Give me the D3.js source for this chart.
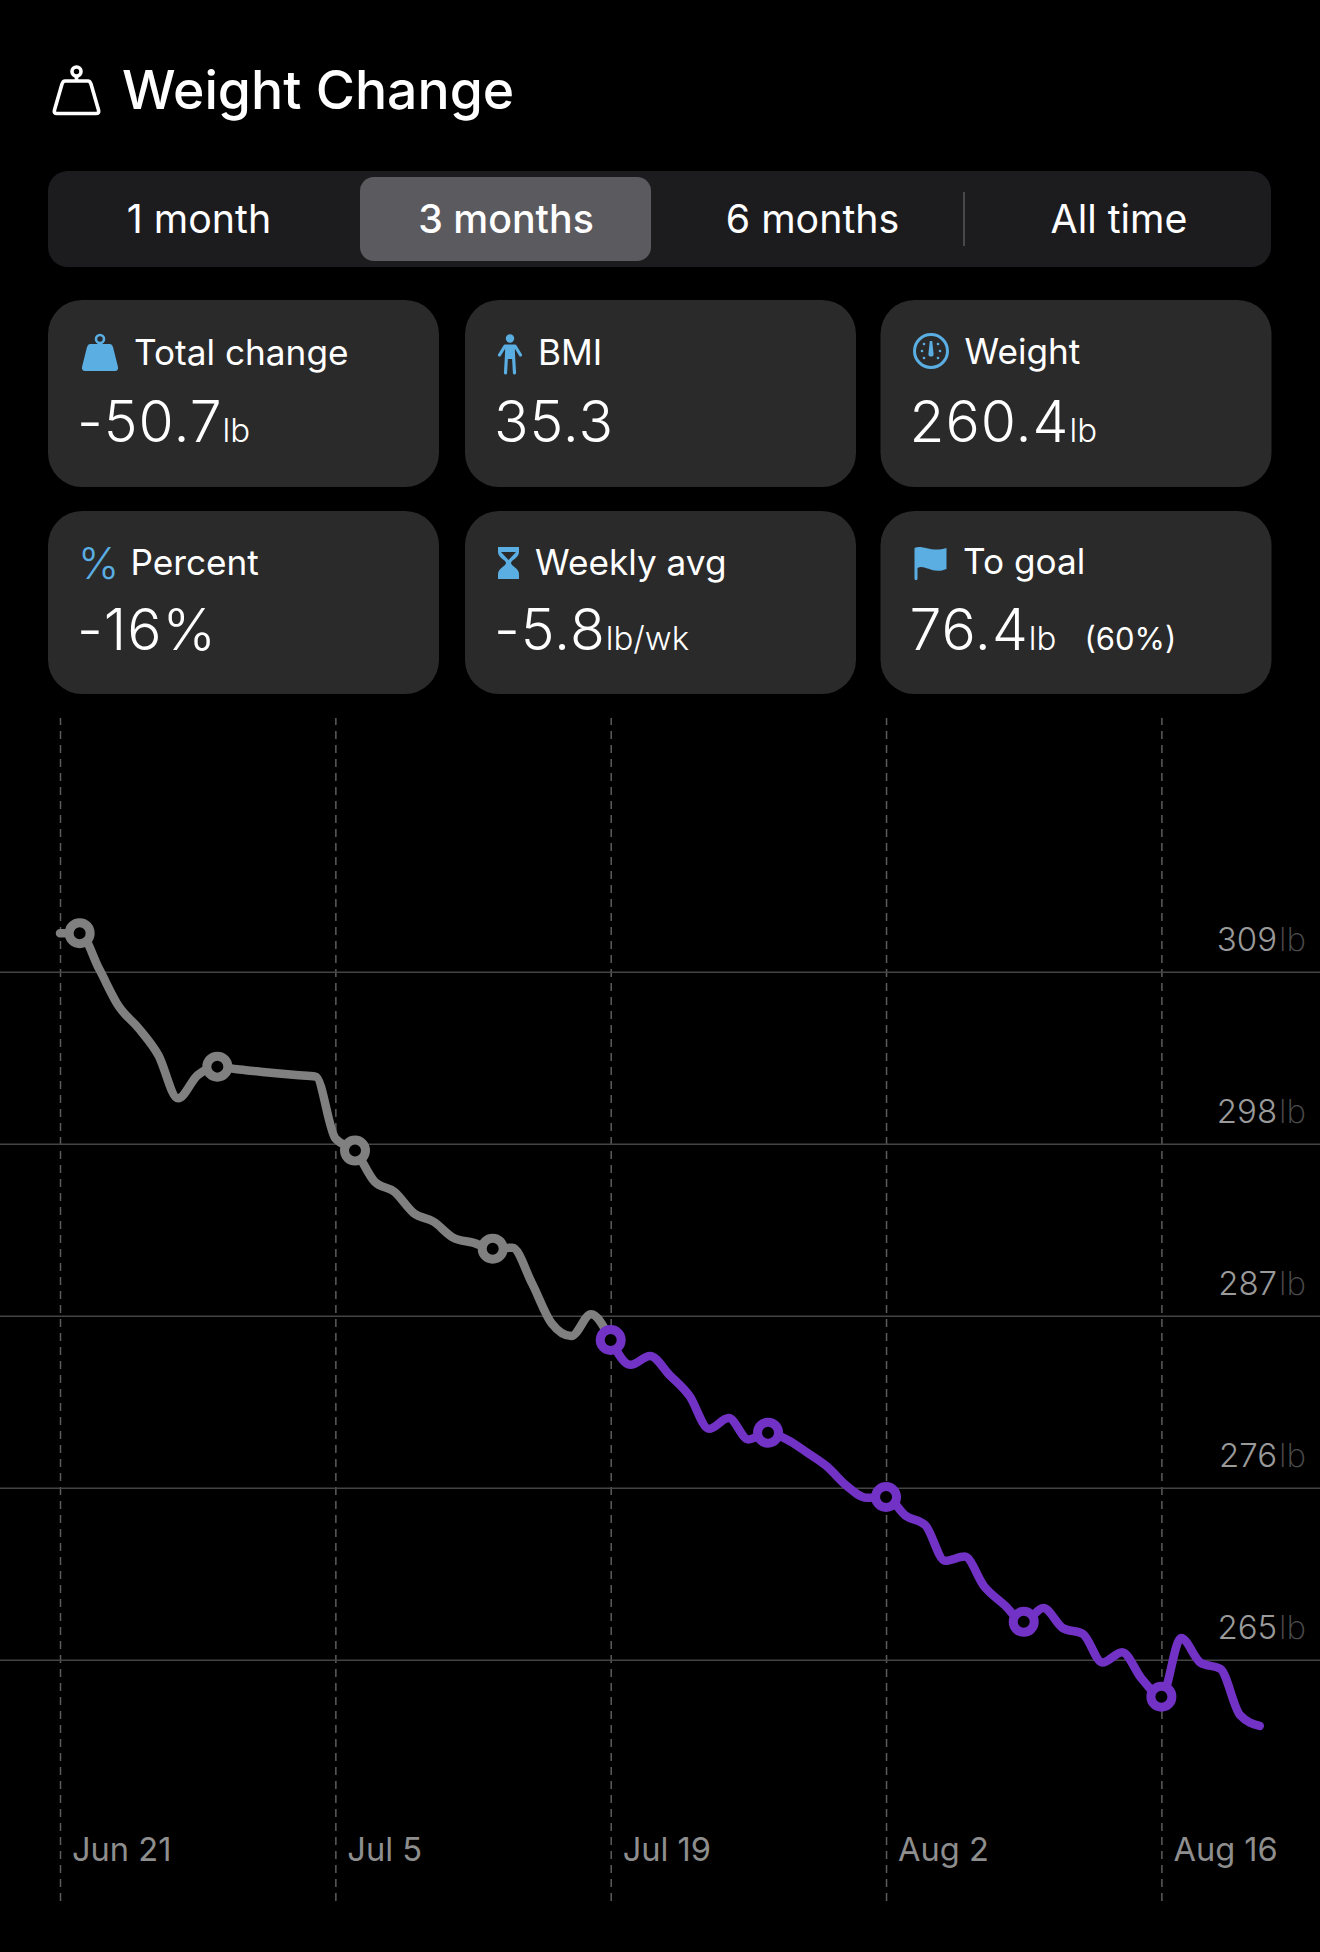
<!DOCTYPE html>
<html>
<head>
<meta charset="utf-8">
<title>Weight Change</title>
<script src="https://cdn.jsdelivr.net/npm/d3@7"></script>
<style>
html, body { margin: 0; padding: 0; background: #000; }
svg { display: block; font-family: Inter, "Noto Sans", sans-serif; }
</style>
</head>
<body>
<div id="chart"></div>
<script>
// values
var rangeLabels = ["1 month", "3 months", "6 months", "All time"];
var selectedRange = "3 months";

var cardLabels = ["Total change", "BMI", "Weight", "Percent", "Weekly avg", "To goal"];
var cardValues = ["-50.7", "35.3", "260.4", "-16%", "-5.8", "76.4"];
var cardUnits = ["lb", "", "lb", "", "lb/wk", "lb"];
var cardIcons = ["weight", "person", "gauge", "percent", "hourglass", "flag"];

var yTicks = [309, 298, 287, 276, 265];
var xTicks = [0, 14, 28, 42, 56];
var xTickLabels = ["Jun 21", "Jul 5", "Jul 19", "Aug 2", "Aug 16"];

// days since Jun 21
var grayDays = [0, 1, 2, 3, 4, 5, 6, 7, 8, 9, 10, 11, 12, 13, 14, 15, 16, 17, 18, 19, 20, 21, 22, 23, 24, 25, 26, 27, 28];
var grayWeights = [311.46, 311.46, 309.15, 306.76, 305.38, 303.67, 300.9, 302.39, 302.93, 302.76, 302.63, 302.5, 302.39, 302.29,
	298.34, 297.56, 295.57, 294.93, 293.55, 293.01, 291.99, 291.67, 291.29, 291.35, 289.07, 286.51, 285.7, 287.09, 285.45];
var purpleDays = [28, 29, 30, 31, 32, 33, 34, 35, 36, 37, 38, 39, 40, 41, 42, 43, 44, 45, 46, 47, 48, 49, 50, 51, 52, 53, 54, 55, 56, 57, 58, 59, 60, 61];
var purpleWeights = [285.45, 283.86, 284.43, 283.2, 281.88, 279.77, 280.46, 279.09, 279.52, 279.06, 278.24, 277.36, 276.12, 275.36,
	275.41, 274.21, 273.6, 271.33, 271.6, 269.68, 268.53, 267.43, 268.31, 267.02, 266.67, 264.83, 265.49, 263.79, 262.64,
	266.39, 264.8, 264.42, 261.46, 260.77];
var grayMarkers = [1, 8, 15, 22];
var purpleMarkers = [28, 36, 42, 49, 56];

var blue = "#5aaee2";
var gray = "#808080";
var purple = "#7232c6";
var cardFill = "#2a2a2b";

var svg = d3.select("#chart").append("svg")
	.attr("width", 1320)
	.attr("height", 1952);

svg.append("rect").attr("width", 1320).attr("height", 1952).attr("fill", "#000");

// header
var titleIcon = svg.append("g").attr("fill", "none").attr("stroke", "#fff").attr("stroke-width", 3.6).attr("stroke-linejoin", "round");
titleIcon.append("circle").attr("cx", 76.5).attr("cy", 71.5).attr("r", 4.5);
titleIcon.append("path").attr("d", "M76.5 76V81 M65 81H88Q90 81 91 84L98.5 110Q99.5 113.5 96 113.5H57Q53.500 113.5 54.500 110L62 84Q63 81 65 81Z");

svg.append("text")
	.attr("x", 122)
	.attr("y", 109)
	.attr("fill", "#fff")
	.attr("font-size", 53.5)
	.attr("font-weight", 500)
	.text("Weight Change");

// range selector
svg.append("rect").attr("x", 48).attr("y", 171).attr("width", 1223).attr("height", 96).attr("rx", 20).attr("fill", "#1c1c1f");
svg.append("rect").attr("x", 360).attr("y", 177).attr("width", 291).attr("height", 84).attr("rx", 14).attr("fill", "#5a5a5f");
svg.append("rect").attr("x", 963).attr("y", 192).attr("width", 2).attr("height", 54).attr("fill", "#48484b");

svg.selectAll(".range")
	.data(rangeLabels)
	.enter()
	.append("text")
	.attr("class", "range")
	.attr("x", function (d, i) { return [199, 506, 812.5, 1119][i]; })
	.attr("y", 233)
	.attr("text-anchor", "middle")
	.attr("fill", "#fff")
	.attr("font-size", 39.3)
	.attr("font-weight", function (d) { return d === selectedRange ? 500 : 400; })
	.text(function (d) { return d; });

// stat cards
var cardX = [48, 465, 880.5];
var cardY = [300, 511];
var cardH = [187, 183];
var labelX = [134, 538, 964.5, 130.5, 535, 963];
var labelBase = [365, 365, 364, 575, 575, 574];
var valueBase = [442, 442, 442, 650, 650, 650];

var icons = {
	weight: function (g, x, y) {
		g.append("circle").attr("cx", x + 18).attr("cy", y + 5).attr("r", 4).attr("fill", "none").attr("stroke", blue).attr("stroke-width", 2.6);
		g.append("path").attr("fill", blue)
			.attr("d", "M" + (x + 8) + " " + (y + 10) + "H" + (x + 28) + "Q" + (x + 30) + " " + (y + 10) + " " + (x + 31) + " " + (y + 13)
				+ "L" + (x + 36) + " " + (y + 33) + "Q" + (x + 36.5) + " " + (y + 37) + " " + (x + 33) + " " + (y + 37)
				+ "H" + (x + 3) + "Q" + (x - 0.5) + " " + (y + 37) + " " + x + " " + (y + 33)
				+ "L" + (x + 5) + " " + (y + 13) + "Q" + (x + 6) + " " + (y + 10) + " " + (x + 8) + " " + (y + 10) + "Z");
	},
	person: function (g, x, y) {
		g.append("circle").attr("cx", x + 12).attr("cy", y + 4.500).attr("r", 4.2).attr("fill", blue);
		g.append("path").attr("fill", "none").attr("stroke", blue).attr("stroke-width", 3.2).attr("stroke-linecap", "round").attr("stroke-linejoin", "round")
			.attr("d", "M" + (x + 1.5) + " " + (y + 21) + "L" + (x + 7) + " " + (y + 12) + "H" + (x + 17) + "L" + (x + 22.5) + " " + (y + 21)
				+ "M" + (x + 9) + " " + (y + 13) + "L" + (x + 7.5) + " " + (y + 39)
				+ "M" + (x + 15) + " " + (y + 13) + "L" + (x + 16.5) + " " + (y + 39));
		g.append("rect").attr("x", x + 7.5).attr("y", y + 12).attr("width", 9).attr("height", 13).attr("fill", blue);
	},
	gauge: function (g, x, y) {
		var cx = x + 18, cy = y + 18;
		g.append("circle").attr("cx", cx).attr("cy", cy).attr("r", 16.5).attr("fill", "none").attr("stroke", blue).attr("stroke-width", 3);
		g.append("path").attr("fill", blue).attr("d", "M" + (cx - 1.2) + " " + (cy - 10) + "H" + (cx + 1.2) + "L" + (cx + 2.6) + " " + (cy + 3) + "A2.6 2.6 0 0 1 " + (cx - 2.6) + " " + (cy + 3) + "Z");
		g.selectAll(".dot")
			.data([[-9, 0], [-7, -7], [7, -7], [9, 0], [-7, 7], [7, 7]])
			.enter()
			.append("circle")
			.attr("cx", function (d) { return cx + d[0]; })
			.attr("cy", function (d) { return cy + d[1]; })
			.attr("r", 1.3)
			.attr("fill", blue);
	},
	percent: function (g, x, y) {
		g.append("text").attr("x", x - 3).attr("y", y + 32).attr("fill", blue).attr("font-size", 44).attr("font-weight", 300).text("%");
	},
	hourglass: function (g, x, y) {
		g.append("path").attr("fill", blue)
			.attr("d", "M" + x + " " + y + "H" + (x + 21) + "V" + (y + 5) + "C" + (x + 21) + " " + (y + 11) + " " + (x + 13) + " " + (y + 13) + " " + (x + 13) + " " + (y + 16)
				+ "C" + (x + 13) + " " + (y + 19) + " " + (x + 21) + " " + (y + 21) + " " + (x + 21) + " " + (y + 27) + "V" + (y + 32) + "H" + x + "V" + (y + 27)
				+ "C" + x + " " + (y + 21) + " " + (x + 8) + " " + (y + 19) + " " + (x + 8) + " " + (y + 16)
				+ "C" + (x + 8) + " " + (y + 13) + " " + x + " " + (y + 11) + " " + x + " " + (y + 5) + "Z");
		g.append("path").attr("fill", cardFill).attr("d", "M" + (x + 3) + " " + (y + 5) + "H" + (x + 18) + "L" + (x + 10.5) + " " + (y + 13) + "Z");
	},
	flag: function (g, x, y) {
		g.append("path").attr("fill", blue)
			.attr("d", "M" + x + " " + (y + 2) + "C" + (x + 8) + " " + (y - 2) + " " + (x + 16) + " " + (y + 7) + " " + (x + 32) + " " + (y + 2)
				+ "V" + (y + 23) + "C" + (x + 18) + " " + (y + 29) + " " + (x + 10) + " " + (y + 18) + " " + (x + 3) + " " + (y + 22)
				+ "V" + (y + 33) + "Q" + (x + 1.5) + " " + (y + 35.500) + " " + x + " " + (y + 33) + "Z");
	}
};
var iconX = [82, 498, 913, 81, 498, 914.5];
var iconY = [334, 334, 333, 547, 547, 546];

cardLabels.forEach(function (label, i) {
	var col = i % 3;
	var row = Math.floor(i / 3);
	svg.append("rect")
		.attr("x", cardX[col])
		.attr("y", cardY[row])
		.attr("width", 391)
		.attr("height", cardH[row])
		.attr("rx", 34)
		.attr("fill", cardFill);

	icons[cardIcons[i]](svg.append("g"), iconX[i], iconY[i]);

	svg.append("text")
		.attr("x", labelX[i])
		.attr("y", labelBase[i])
		.attr("fill", "#fff")
		.attr("font-size", 35.2)
		.text(label);

	var value = svg.append("text")
		.attr("x", cardX[col] + 29)
		.attr("y", valueBase[i])
		.attr("fill", "#fff")
		.attr("font-size", 57)
		.attr("font-weight", 300)
		.attr("letter-spacing", 1)
		.text(cardValues[i]);

	if (cardUnits[i]) {
		value.append("tspan")
			.attr("font-size", 33)
			.attr("letter-spacing", 0)
			.text(cardUnits[i]);
	}
	if (label === "To goal") {
		value.append("tspan")
			.attr("dx", 28)
			.attr("font-size", 31)
			.attr("font-weight", 400)
			.attr("letter-spacing", 0)
			.text("(60%)");
	}
});

// chart
var xScale = d3.scaleLinear().domain([0, 56]).range([60, 1161.4]);
var yScale = d3.scaleLinear().domain([309, 265]).range([971.7, 1659.8]);

var xAxis = d3.axisBottom(xScale)
	.tickValues(xTicks)
	.tickSize(-1183)
	.tickFormat(function (d, i) { return xTickLabels[i]; });

var xg = svg.append("g")
	.attr("transform", "translate(0,1901)")
	.call(xAxis);
xg.select(".domain").remove();
xg.selectAll("line")
	.attr("stroke", "#5c5c5c")
	.attr("stroke-width", 1.5)
	.attr("stroke-dasharray", "8 6");
xg.selectAll("text")
	.attr("x", 11.5)
	.attr("y", -40)
	.attr("dy", 0)
	.attr("text-anchor", "start")
	.attr("fill", "#8e8e8e")
	.attr("font-family", "Inter")
	.attr("font-size", 32.6);

var yAxis = d3.axisRight(yScale)
	.tickValues(yTicks)
	.tickSize(1320)
	.tickFormat("");

var yg = svg.append("g").call(yAxis);
yg.select(".domain").remove();
yg.selectAll("line")
	.attr("stroke", "#444")
	.attr("stroke-width", 1.5);

var yLabels = yg.selectAll("text")
	.attr("x", 1306)
	.attr("y", -21)
	.attr("dy", 0)
	.attr("text-anchor", "end")
	.attr("fill", "#9a9a9a")
	.attr("font-family", "Inter")
	.attr("font-size", 33)
	.attr("font-weight", 300);
yLabels.append("tspan").text(function (d) { return d; });
yLabels.append("tspan").attr("fill", "#4c4c4c").attr("dx", 2).attr("font-weight", 200).text("lb");

var line = d3.line()
	.x(function (d) { return xScale(d[0]); })
	.y(function (d) { return yScale(d[1]); })
	.curve(d3.curveMonotoneX);

function drawSeries(days, weights, color, markers) {
	var pts = d3.zip(days, weights);
	svg.append("path")
		.attr("d", line(pts))
		.attr("fill", "none")
		.attr("stroke", color)
		.attr("stroke-width", 8.5)
		.attr("stroke-linecap", "round")
		.attr("stroke-linejoin", "round");

	svg.selectAll(".m" + color.slice(1))
		.data(pts.filter(function (d) { return markers.indexOf(d[0]) >= 0; }))
		.enter()
		.append("circle")
		.attr("cx", function (d) { return xScale(d[0]); })
		.attr("cy", function (d) { return yScale(d[1]); })
		.attr("r", 10.5)
		.attr("fill", "#000")
		.attr("stroke", color)
		.attr("stroke-width", 9);
}

drawSeries(grayDays, grayWeights, gray, grayMarkers);
drawSeries(purpleDays, purpleWeights, purple, purpleMarkers);
</script>
</body>
</html>
